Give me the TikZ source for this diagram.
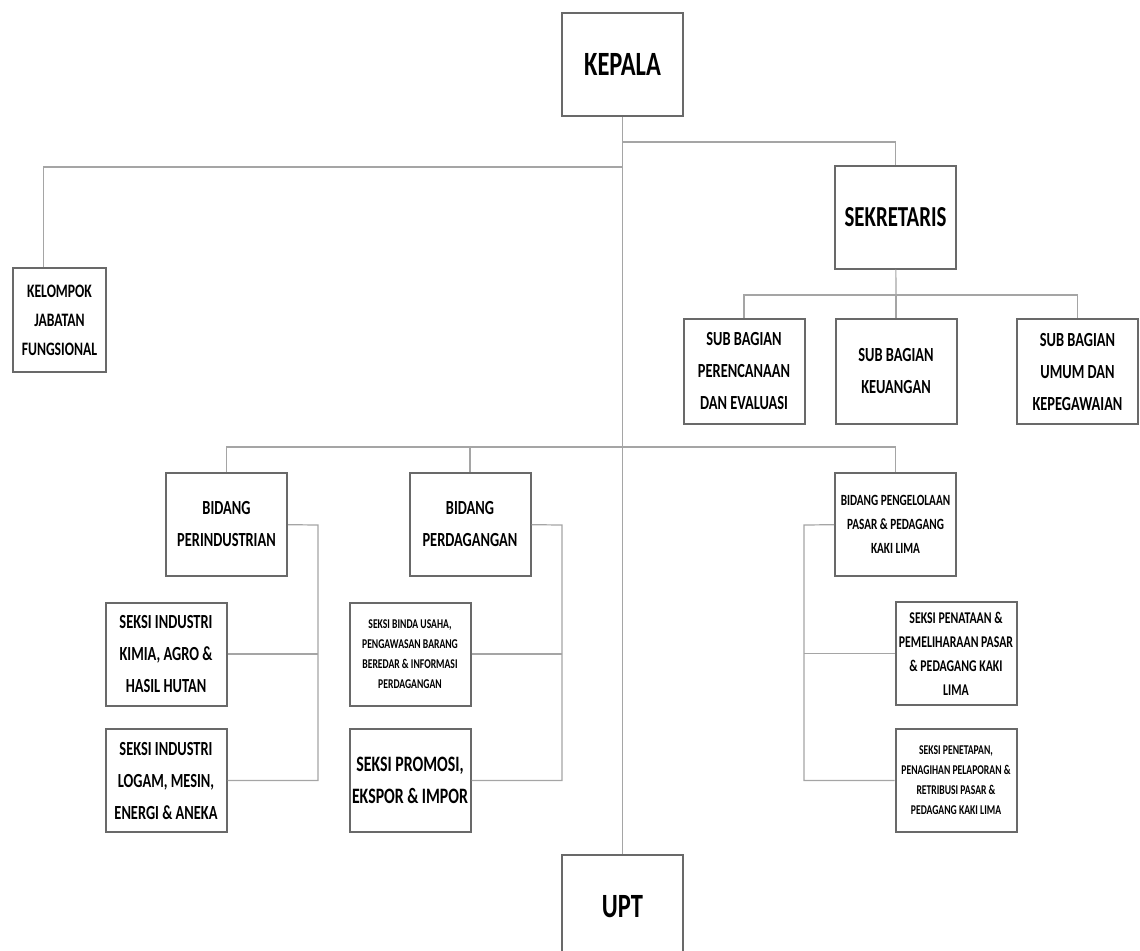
\documentclass[tikz,border=0pt]{standalone}
\usepackage{fontspec}
\setmainfont[FakeStretch=0.72]{Carlito}
\definecolor{boxgray}{RGB}{105,105,105}
\definecolor{linegray}{RGB}{165,165,165}

\begin{document}
\begin{tikzpicture}[x=0.5pt, y=-0.5pt,
      unit/.style={draw=boxgray, line width=1pt, fill=white, align=flush center,
         text width=58pt, inner xsep=1.25pt, minimum height=51.5pt},
      big/.style={font=\bfseries\fontsize{17}{20}\selectfont},
      mid/.style={font=\bfseries\fontsize{10}{16}\selectfont},
      small/.style={font=\bfseries\fontsize{7.8}{12}\selectfont},
      tiny/.style={font=\bfseries\fontsize{6.7}{10}\selectfont},
      link/.style={draw=linegray, line width=0.6pt}]
         \useasboundingbox (0,0) rectangle (1140,950);

         % top
         \node (kepala) at (622.5,64.5) [unit, big] {KEPALA};
         \node (sekretaris) at (895.5,217) [unit, font=\bfseries\fontsize{14.5}{18}\selectfont] {SEKRETARIS};
         \node (kelompok) at (59.5,320) [unit, mid, text width=44pt, minimum height=52pt,
            font=\bfseries\fontsize{9.5}{14.5}\selectfont] {KELOMPOK\\JABATAN\\FUNGSIONAL};

         % sub bagian
         \node (subA) at (744,371.5) [unit, mid, minimum height=52.5pt] {SUB BAGIAN\\PERENCANAAN\\DAN EVALUASI};
         \node (subB) at (896,371.5) [unit, mid, minimum height=52.5pt] {SUB BAGIAN\\KEUANGAN};
         \node (subC) at (1077.5,371.5) [unit, mid, minimum height=52.5pt] {SUB BAGIAN\\UMUM DAN\\KEPEGAWAIAN};

         % bidang
         \node (bidangA) at (226.5,524) [unit, mid] {BIDANG\\PERINDUSTRIAN};
         \node (bidangB) at (470,524) [unit, mid] {BIDANG\\PERDAGANGAN};
         \node (bidangC) at (895.5,524) [unit, small] {BIDANG PENGELOLAAN\\PASAR \& PEDAGANG\\KAKI LIMA};

         % seksi
         \node (seksiA1) at (166,654) [unit, mid] {SEKSI INDUSTRI\\KIMIA, AGRO \&\\HASIL HUTAN};
         \node (seksiA2) at (166,780.5) [unit, mid] {SEKSI INDUSTRI\\LOGAM, MESIN,\\ENERGI \& ANEKA};
         \node (seksiB1) at (410,654) [unit, tiny] {SEKSI BINDA USAHA,\\PENGAWASAN BARANG\\BEREDAR \& INFORMASI\\PERDAGANGAN};
         \node (seksiB2) at (410,780.5) [unit, font=\bfseries\fontsize{11}{16}\selectfont] {SEKSI PROMOSI,\\EKSPOR \& IMPOR};
         \node (seksiC1) at (956,653.5) [unit, text width=60pt, inner xsep=0.25pt,
            font=\bfseries\fontsize{8.2}{12}\selectfont] {SEKSI PENATAAN \&\\PEMELIHARAAN PASAR\\\& PEDAGANG KAKI\\LIMA};
         \node (seksiC2) at (956,780.5) [unit, tiny] {SEKSI PENETAPAN,\\PENAGIHAN PELAPORAN \&\\RETRIBUSI PASAR \&\\PEDAGANG KAKI LIMA};

         \node (upt) at (622.5,906.5) [unit, big] {UPT};

         % connectors
         \coordinate (jSek) at (623,142);
         \coordinate (jKel) at (623,167);
         \coordinate (jBid) at (623,447);
         \coordinate (jSub) at (896,295);
         \coordinate (busA) at (318,525);
         \coordinate (busB) at (562,525);
         \coordinate (busC) at (804,525);

         \draw [link] (kepala) -- (upt);
         \draw [link] (jSek) -| (sekretaris);
         \draw [link] (jKel) -| ([xshift=-8pt]kelompok.north);
         \draw [link] (sekretaris) -- (jSub);
         \draw [link] (jSub) -| (subA);
         \draw [link] (jSub) -| (subC);
         \draw [link] (jSub) -- (subB);
         \draw [link] (jBid) -| (bidangA);
         \draw [link] (jBid) -| (bidangB);
         \draw [link] (jBid) -| (bidangC);

         \draw [link] (bidangA) -- (busA) -- (busA |- seksiA2) -- (seksiA2);
         \draw [link] (seksiA1) -- (busA |- seksiA1);
         \draw [link] (bidangB) -- (busB) -- (busB |- seksiB2) -- (seksiB2);
         \draw [link] (seksiB1) -- (busB |- seksiB1);
         \draw [link] (bidangC) -- (busC) -- (busC |- seksiC2) -- (seksiC2);
         \draw [link] (seksiC1) -- (busC |- seksiC1);
      \end{tikzpicture}
\end{document}
